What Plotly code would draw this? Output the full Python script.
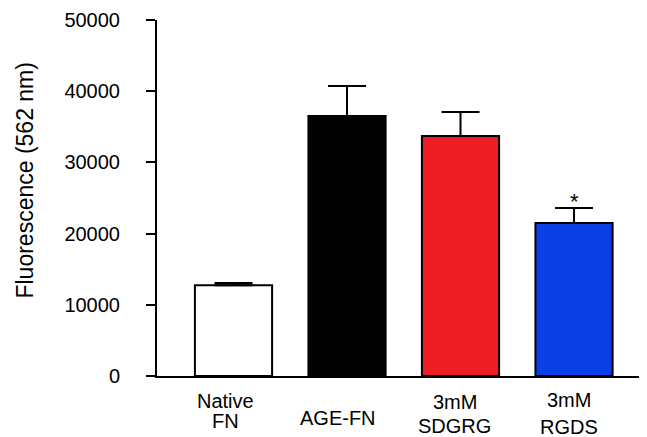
import plotly.graph_objects as go

categories = ["Native FN", "AGE-FN", "3mM SDGRG", "3mM RGDS"]
tick_lines = [["Native", "FN"], ["AGE-FN"], ["3mM", "SDGRG"], ["3mM", "RGDS"]]
means = [12750, 36500, 33700, 21500]
errors = [300, 4230, 3370, 2100]
significant = [False, False, False, True]
y_ticks = [0, 10000, 20000, 30000, 40000, 50000]

# style
fills = ["#FFFFFF", "#000000", "#EE1C24", "#0A40E6"]
label_line_offsets = [[-24.5, -44.5], [-41.5], [-26, -49.5], [-24, -50.5]]  # px below axis
label_xshift = [-8, -9, -6, -5]
FONT = "Arial, 'Liberation Sans', Helvetica, sans-serif"

fig = go.Figure()
fig.add_trace(go.Bar(
    x=categories,
    y=means,
    width=0.68,
    marker=dict(color=fills, line=dict(color="black", width=2)),
    error_y=dict(type="data", array=errors, arrayminus=[0] * len(errors),
                 symmetric=False, color="black", thickness=2, width=19),
    showlegend=False,
))

annotations = []
for cat, lines, offs, xs in zip(categories, tick_lines, label_line_offsets, label_xshift):
    for line, off in zip(lines, offs):
        annotations.append(dict(
            x=cat, xref="x", y=0, yref="paper", text=line, showarrow=False,
            xanchor="center", yanchor="middle", yshift=off, xshift=xs,
            font=dict(family=FONT, size=20, color="black"),
        ))

for cat, m, e, sig in zip(categories, means, errors, significant):
    if sig:
        annotations.append(dict(
            x=cat, xref="x", y=m + e, yref="y", text="*", showarrow=False,
            xanchor="center", yanchor="middle", yshift=6,
            font=dict(family=FONT, size=22, color="black"),
        ))

annotations.append(dict(
    x=0, xref="paper", y=0.549, yref="paper", text="Fluorescence (562 nm)",
    showarrow=False, textangle=-90, xanchor="center", yanchor="middle",
    xshift=-132, font=dict(family=FONT, size=23, color="black"),
))

# page body has an 8px default margin, so the figure is sized to fit the window
fig.update_layout(
    width=639, height=429,
    margin=dict(l=149, r=0, t=12, b=61, pad=0),
    paper_bgcolor="white", plot_bgcolor="white",
    font=dict(family=FONT, size=20, color="black"),
    annotations=annotations,
    xaxis=dict(
        type="category", categoryorder="array", categoryarray=categories,
        range=[-0.674, 3.643], showticklabels=False, ticks="",
        showline=True, linecolor="black", linewidth=2, showgrid=False,
        zeroline=False, fixedrange=True,
    ),
    yaxis=dict(
        range=[0, 50000], tickvals=y_ticks, ticktext=[str(v) for v in y_ticks],
        ticks="outside", ticklen=9, tickwidth=2, tickcolor="black",
        showline=True, linecolor="black", linewidth=2, showgrid=False,
        zeroline=False, ticklabelstandoff=22,
        tickfont=dict(family=FONT, size=20, color="black"),
    ),
)

fig.write_html("out.html")
